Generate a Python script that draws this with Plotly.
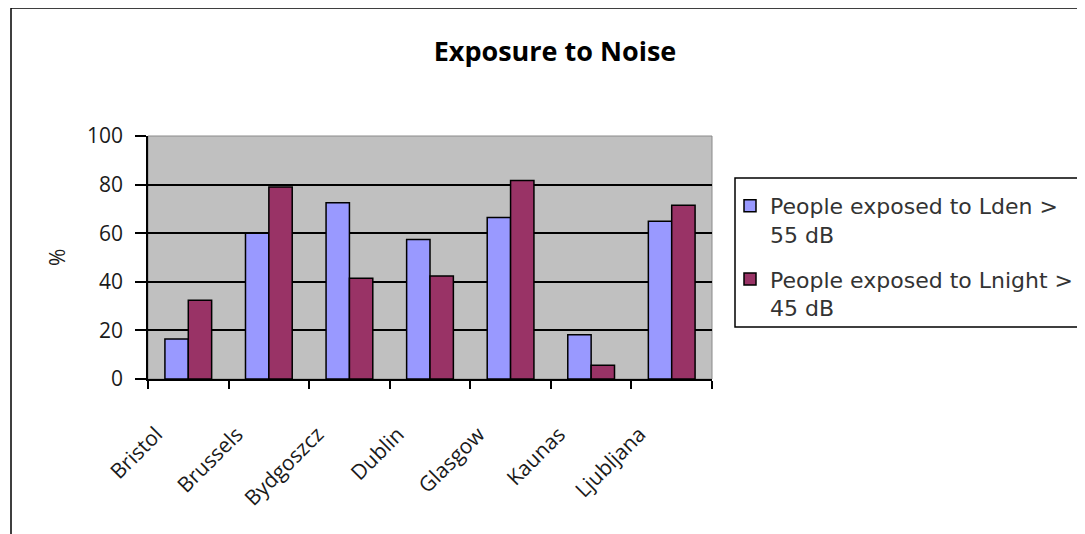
import plotly.graph_objects as go

cities = ["Bristol", "Brussels", "Bydgoszcz", "Dublin", "Glasgow", "Kaunas", "Ljubljana"]
lden_55 = [16.5, 60, 72.5, 57.4, 66.5, 18.2, 64.9]
lnight_45 = [32.4, 79, 41.5, 42.4, 81.7, 5.7, 71.5]
series_names = ["People exposed to Lden ><br>55 dB", "People exposed to Lnight ><br>45 dB"]
y_ticks = [0, 20, 40, 60, 80, 100]
grid_vals = [20, 40, 60, 80]

# page body has an 8px margin; work in screen coordinates and offset
OFF = 8
W, H = 1085 - OFF, 534 - OFF
L, R, T, B = 148 - OFF, 712 - OFF, 136 - OFF, 379 - OFF
pw, ph = R - L, B - T

def px(x):
    return (x - OFF - L) / pw

def py(y):
    return (B - (y - OFF)) / ph

FONT = "Open Sans"
LFONT = "DejaVu Sans"

fig = go.Figure()
fig.add_trace(go.Bar(x=cities, y=lden_55, name=series_names[0], legendgroup="a",
                     marker=dict(color="#9999FF", line=dict(color="black", width=1.5))))
fig.add_trace(go.Bar(x=cities, y=lnight_45, name=series_names[1], legendgroup="b",
                     marker=dict(color="#993366", line=dict(color="black", width=1.5))))

fig.update_layout(
    width=W, height=H,
    margin=dict(l=L, r=W - R, t=T, b=H - B, autoexpand=False),
    paper_bgcolor="white",
    plot_bgcolor="#C0C0C0",
    barmode="group",
    bargap=0.42,
    bargroupgap=0,
    font=dict(family=FONT, size=21, color="#1a1a1a"),
    title=dict(text="<b>Exposure to Noise</b>", xref="container", yref="container",
               x=(555 - OFF) / W, y=1 - (52 - OFF) / H, xanchor="center", yanchor="middle",
               font=dict(family=FONT, size=27, color="black")),
    showlegend=True,
    legend=dict(x=px(730), y=py(185), xanchor="left", yanchor="top",
                xref="paper", yref="paper",
                bgcolor="rgba(0,0,0,0)", borderwidth=0, valign="top",
                font=dict(family=LFONT, size=22, color="#333333"),
                tracegroupgap=13, traceorder="grouped"),
    xaxis=dict(showline=True, linecolor="black", linewidth=1.5,
               ticks="outside", tickson="boundaries", ticklen=8, tickwidth=1.5, tickcolor="black",
               tickangle=-45, tickfont=dict(family=FONT, size=21, color="#1a1a1a"),
               ticklabelstandoff=33, ticklabelshift=-32,
               showgrid=False, zeroline=False, fixedrange=True),
    yaxis=dict(range=[0, 100], tickvals=y_ticks, showline=True, linecolor="black", linewidth=1.5,
               ticks="outside", ticklen=11, tickwidth=1.5, tickcolor="black",
               tickfont=dict(family=FONT, size=21, color="#1a1a1a"),
               ticklabelstandoff=8,
               showgrid=False, zeroline=False, fixedrange=True,
               minor=dict(tickvals=grid_vals, showgrid=True, gridcolor="black", gridwidth=1.5, ticks="")),
    shapes=[
        dict(type="rect", xref="paper", yref="paper", x0=0, x1=1, y0=0, y1=1,
             line=dict(color="#8a8a8a", width=1), layer="below"),
        dict(type="rect", xref="paper", yref="paper", x0=px(11), x1=px(1100), y0=py(545), y1=py(8),
             line=dict(color="black", width=1.5), layer="above"),
        dict(type="rect", xref="paper", yref="paper", x0=px(735), x1=px(1100), y0=py(327), y1=py(178),
             line=dict(color="black", width=1.5), layer="above"),
    ],
    annotations=[
        dict(text="%", xref="paper", yref="paper", x=px(57), y=py(258), showarrow=False,
             textangle=-90, font=dict(family=FONT, size=21, color="#1a1a1a"),
             xanchor="center", yanchor="middle"),
    ],
)

fig.write_html("out.html")
